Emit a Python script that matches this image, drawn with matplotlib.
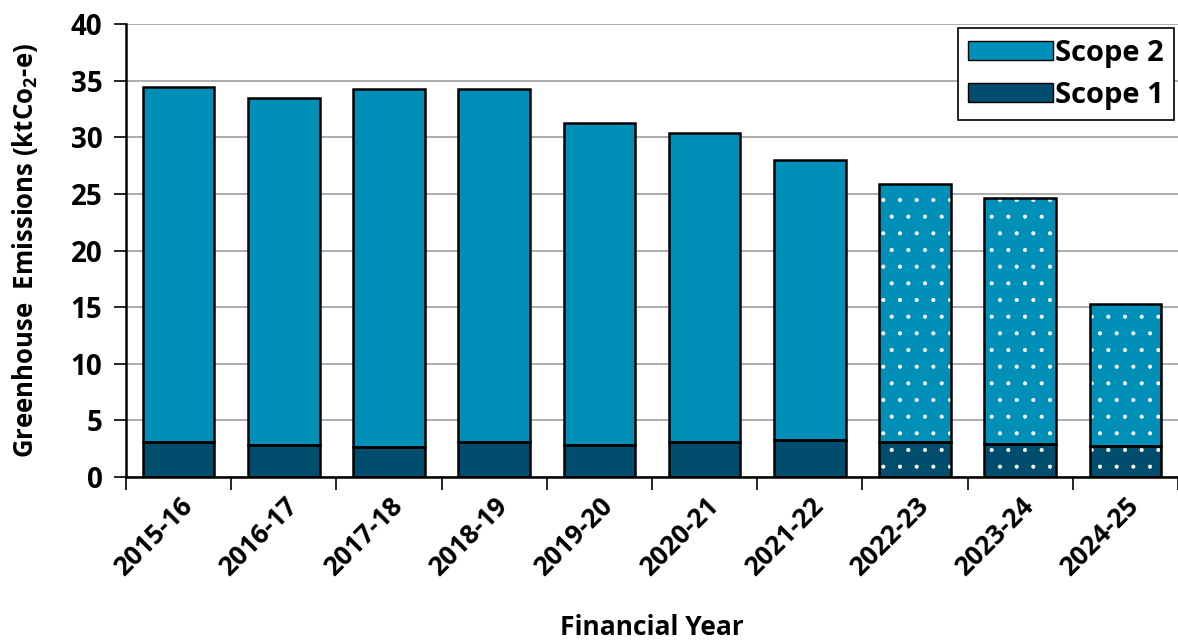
import numpy as np
import matplotlib
matplotlib.use('Agg')
import matplotlib.pyplot as plt
from matplotlib.patches import Patch

years = ['2015-16', '2016-17', '2017-18', '2018-19', '2019-20',
         '2020-21', '2021-22', '2022-23', '2023-24', '2024-25']
total = [34.4, 33.5, 34.25, 34.3, 31.3, 30.35, 28.0, 25.9, 24.6, 15.25]
scope1 = [3.05, 2.8, 2.65, 3.1, 2.85, 3.1, 3.25, 3.1, 2.9, 2.75]
scope2 = [t - s for t, s in zip(total, scope1)]
projected = [False] * 7 + [True] * 3

c_s1 = '#004d6e'
c_s2 = '#008fb6'

plt.rcParams['font.family'] = ['Open Sans', 'DejaVu Sans']
plt.rcParams['font.weight'] = 'bold'
plt.rcParams['axes.labelweight'] = 'bold'
plt.rcParams['mathtext.fontset'] = 'custom'
plt.rcParams['mathtext.bf'] = 'Open Sans:bold'
plt.rcParams['mathtext.rm'] = 'Open Sans:bold'
plt.rcParams['hatch.linewidth'] = 0.5

fig = plt.figure(figsize=(11.78, 6.41), dpi=100)
ax = fig.add_axes([0.107, 0.256, 0.893, 0.7064])

x = np.arange(len(years))
w = 0.68
for i in x:
    hatch = '.' if projected[i] else None
    ax.bar(i, scope1[i], w, color=c_s1, edgecolor='white' if hatch else c_s1,
           linewidth=0, hatch=hatch, zorder=2)
    ax.bar(i, scope2[i], w, bottom=scope1[i], color=c_s2,
           edgecolor='white' if hatch else c_s2, linewidth=0, hatch=hatch, zorder=2)
    ax.bar(i, scope1[i], w, fill=False, edgecolor='black', linewidth=1.8, zorder=3)
    ax.bar(i, scope2[i], w, bottom=scope1[i], fill=False, edgecolor='black',
           linewidth=1.8, zorder=3)

ax.set_xlim(-0.5, len(years) - 0.5)
ax.set_ylim(0, 40)
ax.set_yticks(range(0, 41, 5))
ax.yaxis.grid(True, color='#a0a0a0', linewidth=1.2, zorder=0)
ax.set_axisbelow(True)

ax.set_xticks(x)
ax.set_xticklabels(years, rotation=45, ha='right', rotation_mode='anchor', fontsize=19)
ax.set_xticks(np.arange(-0.5, len(years)), minor=True)
ax.tick_params(axis='x', which='major', length=0, pad=11)
ax.tick_params(axis='x', which='minor', length=9, width=1.2, direction='out')
ax.tick_params(axis='y', labelsize=20, length=9, width=1.2, direction='out', pad=8)

for s in ['top', 'right']:
    ax.spines[s].set_visible(False)
ax.spines['left'].set_linewidth(1.8)
ax.spines['bottom'].set_linewidth(1.8)

ax.set_ylabel('Greenhouse  Emissions (ktCo$_\\mathbf{2}$-e)', fontsize=18.5, labelpad=22)
ax.set_xlabel('Financial Year', fontsize=19, labelpad=24)

handles = [Patch(facecolor=c_s2, edgecolor='black', label='Scope 2'),
           Patch(facecolor=c_s1, edgecolor='black', label='Scope 1')]
leg = ax.legend(handles=handles, loc='upper right', fontsize=21, fancybox=False,
                framealpha=1, edgecolor='black', handlelength=2.9, handleheight=0.65,
                handletextpad=0.05, borderaxespad=0.15, labelspacing=0.45, borderpad=0.35)
leg.get_frame().set_linewidth(1.2)

fig.savefig('out.png', dpi=100)
